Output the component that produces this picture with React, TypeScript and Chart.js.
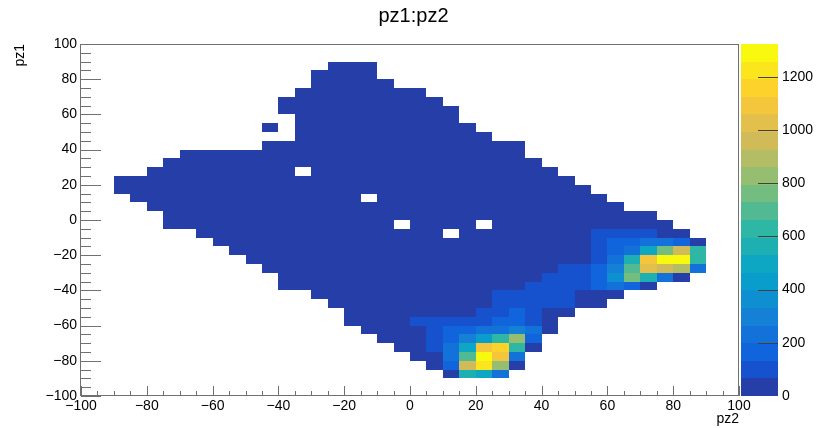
import React, { useEffect, useRef } from "react";
import { Chart, registerables } from "chart.js";

Chart.register(...registerables);

// ---- histogram definition (TH2, 5x5 bins) ----
const BIN_WIDTH = 5;
const X_RANGE = [-100, 100];
const Y_RANGE = [-100, 100];

// lower y edge of each filled row (top to bottom)
const rowYLow = [85, 80, 75, 70, 65, 60, 55, 50, 45, 40, 35, 30, 25, 20, 15, 10, 5, 0, -5, -10, -15, -20, -25, -30, -35, -40, -45, -50, -55, -60, -65, -70, -75, -80, -85, -90];
// lower x edge of the first bin of each row
const rowXLow = [-25, -30, -30, -35, -40, -40, -35, -45, -35, -45, -70, -75, -80, -90, -90, -85, -80, -75, -75, -65, -60, -55, -50, -45, -40, -40, -30, -25, -20, -20, -15, -10, -5, 0, 5, 10];
// bin contents along each row (0 = empty bin)
const rowCounts: number[][] = [
  [30, 30, 30],
  [30, 30, 30, 30],
  [30, 30, 30, 30, 30],
  [30, 30, 30, 30, 30, 30, 30, 30],
  [30, 30, 30, 30, 30, 30, 30, 30, 30, 30],
  [30, 30, 30, 30, 30, 30, 30, 30, 30, 30, 30],
  [30, 30, 30, 30, 30, 30, 30, 30, 30, 30],
  [30, 0, 30, 30, 30, 30, 30, 30, 30, 30, 30, 30, 30],
  [30, 30, 30, 30, 30, 30, 30, 30, 30, 30, 30, 30],
  [30, 30, 30, 30, 30, 30, 30, 30, 30, 30, 30, 30, 30, 30, 30, 30],
  [30, 30, 30, 30, 30, 30, 30, 30, 30, 30, 30, 30, 30, 30, 30, 30, 30, 30, 30, 30, 30],
  [30, 30, 30, 30, 30, 30, 30, 30, 30, 30, 30, 30, 30, 30, 30, 30, 30, 30, 30, 30, 30, 30, 30],
  [30, 30, 30, 30, 30, 30, 30, 30, 30, 0, 30, 30, 30, 30, 30, 30, 30, 30, 30, 30, 30, 30, 30, 30, 30],
  [30, 30, 30, 30, 30, 30, 30, 30, 30, 30, 30, 30, 30, 30, 30, 30, 30, 30, 30, 30, 30, 30, 30, 30, 30, 30, 30, 30],
  [30, 30, 30, 30, 30, 30, 30, 30, 30, 30, 30, 30, 30, 30, 30, 30, 30, 30, 30, 30, 30, 30, 30, 30, 30, 30, 30, 30, 30],
  [30, 30, 30, 30, 30, 30, 30, 30, 30, 30, 30, 30, 30, 30, 0, 30, 30, 30, 30, 30, 30, 30, 30, 30, 30, 30, 30, 30, 30],
  [30, 30, 30, 30, 30, 30, 30, 30, 30, 30, 30, 30, 30, 30, 30, 30, 30, 30, 30, 30, 30, 30, 30, 30, 30, 30, 30, 30, 30],
  [30, 30, 30, 30, 30, 30, 30, 30, 30, 30, 30, 30, 30, 30, 30, 30, 30, 30, 30, 30, 30, 30, 30, 30, 30, 30, 30, 30, 30, 30],
  [30, 30, 30, 30, 30, 30, 30, 30, 30, 30, 30, 30, 30, 30, 0, 30, 30, 30, 30, 0, 30, 30, 30, 30, 30, 30, 30, 30, 30, 30, 30],
  [30, 30, 30, 30, 30, 30, 30, 30, 30, 30, 30, 30, 30, 30, 30, 0, 30, 30, 30, 30, 30, 30, 30, 30, 100, 100, 100, 100, 30, 30],
  [30, 30, 30, 30, 30, 30, 30, 30, 30, 30, 30, 30, 30, 30, 30, 30, 30, 30, 30, 30, 30, 30, 30, 100, 165, 165, 230, 230, 165, 30],
  [30, 30, 30, 30, 30, 30, 30, 30, 30, 30, 30, 30, 30, 30, 30, 30, 30, 30, 30, 30, 30, 30, 100, 165, 230, 500, 760, 960, 630],
  [30, 30, 30, 30, 30, 30, 30, 30, 30, 30, 30, 30, 30, 30, 30, 30, 30, 30, 30, 30, 30, 100, 230, 560, 1090, 1300, 1280, 630],
  [30, 30, 30, 30, 30, 30, 30, 30, 30, 30, 30, 30, 30, 30, 30, 30, 30, 30, 100, 100, 165, 300, 695, 1025, 960, 895, 210],
  [30, 30, 30, 30, 30, 30, 30, 30, 30, 30, 30, 30, 30, 30, 30, 30, 100, 100, 100, 165, 365, 760, 560, 230, 30],
  [30, 30, 30, 30, 30, 30, 30, 30, 30, 30, 30, 30, 30, 30, 30, 100, 100, 100, 100, 165, 250, 165, 30],
  [30, 30, 30, 30, 30, 30, 30, 30, 30, 30, 30, 100, 100, 100, 100, 100, 30, 30, 30],
  [30, 30, 30, 30, 30, 30, 30, 30, 30, 30, 100, 100, 100, 100, 100, 30, 30],
  [30, 30, 30, 30, 30, 30, 30, 30, 100, 100, 165, 100, 30, 30],
  [30, 30, 30, 30, 100, 100, 100, 100, 100, 165, 165, 100, 30],
  [30, 30, 30, 30, 100, 165, 165, 210, 210, 280, 230, 30],
  [30, 30, 30, 100, 165, 300, 430, 630, 825, 165],
  [30, 30, 100, 230, 500, 1090, 1160, 630, 30],
  [30, 30, 230, 695, 1323, 1090, 230],
  [30, 165, 960, 1240, 825, 30],
  [30, 560, 500, 230],
];

const zTicks = [0, 200, 400, 600, 800, 1000, 1200];
const N_CONTOURS = 20;

// ROOT kBird palette
const birdStops = [0.0, 0.125, 0.25, 0.375, 0.5, 0.625, 0.75, 0.875, 1.0];
const birdRed = [0.2082, 0.0592, 0.078, 0.0232, 0.1802, 0.5301, 0.8186, 0.9956, 0.9764];
const birdGreen = [0.1664, 0.3599, 0.5041, 0.6419, 0.7178, 0.7492, 0.7328, 0.7862, 0.9832];
const birdBlue = [0.5293, 0.8684, 0.8385, 0.7914, 0.6425, 0.4662, 0.3499, 0.1968, 0.0539];

const FONT = "'Liberation Sans', Arial, Helvetica, sans-serif";
const AXIS_COLOR = "#707070";

function buildPalette(n: number): string[] {
  const cols: string[] = [];
  for (let g = 1; g < birdStops.length; g++) {
    const nc = Math.floor(n * birdStops[g]) - Math.floor(n * birdStops[g - 1]);
    for (let c = 0; c < nc; c++) {
      const r = birdRed[g - 1] + (c * (birdRed[g] - birdRed[g - 1])) / nc;
      const gg = birdGreen[g - 1] + (c * (birdGreen[g] - birdGreen[g - 1])) / nc;
      const b = birdBlue[g - 1] + (c * (birdBlue[g] - birdBlue[g - 1])) / nc;
      cols.push(`rgb(${Math.round(r * 255)},${Math.round(gg * 255)},${Math.round(b * 255)})`);
    }
  }
  return cols;
}
const PALETTE = buildPalette(255);

function levelColor(k: number): string {
  const idx = Math.min(PALETTE.length - 1, Math.floor(((k + 0.99) * PALETTE.length) / N_CONTOURS));
  return PALETTE[idx];
}

type Cell = { x: number; y: number; v: number };
const cells: Cell[] = [];
rowCounts.forEach((row, r) => {
  row.forEach((v, i) => {
    if (v > 0) cells.push({ x: rowXLow[r] + (i + 0.5) * BIN_WIDTH, y: rowYLow[r] + BIN_WIDTH / 2, v });
  });
});
const Z_MAX = Math.max(...cells.map((c) => c.v));

const fmt = (v: number) => (v < 0 ? "\u2212" + Math.abs(v) : String(v));

const colzPlugin = {
  id: "colz",
  beforeDatasetsDraw(chart: any) {
    const { ctx, chartArea } = chart;
    const xs = chart.scales.x;
    const ys = chart.scales.y;
    const data = chart.data.datasets[0].data as Cell[];
    ctx.save();
    ctx.beginPath();
    ctx.rect(chartArea.left, chartArea.top, chartArea.right - chartArea.left, chartArea.bottom - chartArea.top);
    ctx.clip();
    for (const c of data) {
      const k = Math.min(N_CONTOURS - 1, Math.floor(0.01 + (c.v * N_CONTOURS) / Z_MAX));
      const x0 = Math.round(xs.getPixelForValue(c.x - BIN_WIDTH / 2));
      const x1 = Math.round(xs.getPixelForValue(c.x + BIN_WIDTH / 2));
      const y0 = Math.round(ys.getPixelForValue(c.y + BIN_WIDTH / 2));
      const y1 = Math.round(ys.getPixelForValue(c.y - BIN_WIDTH / 2));
      ctx.fillStyle = levelColor(k);
      ctx.fillRect(x0, y0, x1 - x0, y1 - y0);
    }
    ctx.restore();
  },
  afterDraw(chart: any) {
    const { ctx, chartArea } = chart;
    const { left, right, top, bottom } = chartArea;
    const xs = chart.scales.x;
    const ys = chart.scales.y;
    const zs = chart.scales.z;
    ctx.save();
    // frame
    ctx.strokeStyle = AXIS_COLOR;
    ctx.lineWidth = 1;
    ctx.strokeRect(left - 0.5, top + 0.5, right - left, bottom - top - 1);
    // x ticks
    ctx.beginPath();
    for (let v = X_RANGE[0]; v <= X_RANGE[1] + 1e-9; v += 5) {
      const px = Math.round(xs.getPixelForValue(v)) + 0.5;
      const len = Math.abs(Math.round(v)) % 20 === 0 ? 10 : 5;
      ctx.moveTo(px, bottom);
      ctx.lineTo(px, bottom - len);
    }
    // y ticks
    for (let v = Y_RANGE[0]; v <= Y_RANGE[1] + 1e-9; v += 5) {
      const py = Math.round(ys.getPixelForValue(v)) + 0.5;
      const len = Math.abs(Math.round(v)) % 20 === 0 ? 20 : 10;
      ctx.moveTo(left, py);
      ctx.lineTo(left + len, py);
    }
    ctx.stroke();

    // colour bar
    const barLeft = Math.round(right + 2);
    const barRight = barLeft + 37;
    for (let k = 0; k < N_CONTOURS; k++) {
      const ya = Math.round(zs.getPixelForValue((k * Z_MAX) / N_CONTOURS));
      const yb = Math.round(zs.getPixelForValue(((k + 1) * Z_MAX) / N_CONTOURS));
      ctx.fillStyle = levelColor(k);
      ctx.fillRect(barLeft, yb, barRight - barLeft, ya - yb);
    }
    ctx.strokeStyle = "#404040";
    ctx.beginPath();
    for (const t of zTicks) {
      const py = Math.round(zs.getPixelForValue(t)) + 0.5;
      if (t === 0) continue;
      ctx.moveTo(barRight - 20, py);
      ctx.lineTo(barRight, py);
    }
    ctx.stroke();
    ctx.fillStyle = "#000";
    ctx.font = `14px ${FONT}`;
    ctx.textAlign = "left";
    ctx.textBaseline = "middle";
    for (const t of zTicks) {
      const py = zs.getPixelForValue(t);
      ctx.fillText(String(t), barRight + 4, py);
    }
    ctx.restore();
  },
};

export default function App() {
  const ref = useRef<HTMLCanvasElement>(null);
  useEffect(() => {
    if (!ref.current) return;
    const chart = new Chart(ref.current, {
      type: "scatter",
      data: {
        datasets: [
          {
            label: "pz1:pz2",
            data: cells as any,
            pointRadius: 0,
            pointHoverRadius: 0,
            showLine: false,
          },
        ],
      },
      options: {
        responsive: false,
        animation: false,
        devicePixelRatio: 1,
        layout: { padding: 0 },
        plugins: {
          legend: { display: false },
          tooltip: { enabled: false },
          title: {
            display: true,
            text: "pz1:pz2",
            color: "#000",
            font: { family: FONT, size: 20, weight: "normal" },
            padding: { top: 4, bottom: 16 },
          },
        },
        scales: {
          x: {
            type: "linear",
            position: "bottom",
            min: X_RANGE[0],
            max: X_RANGE[1],
            grid: { display: false, drawTicks: false },
            border: { display: false },
            ticks: {
              stepSize: 20,
              autoSkip: false,
              maxRotation: 0,
              padding: 2,
              color: "#000",
              font: { family: FONT, size: 14 },
              callback: (v: any) => fmt(Number(v)),
            },
            title: {
              display: true,
              text: "pz2",
              align: "end",
              color: "#000",
              font: { family: FONT, size: 14 },
              padding: { top: 0, bottom: 0 },
            },
            afterFit: (s: any) => {
              s.height = 32;
            },
          },
          y: {
            type: "linear",
            position: "left",
            min: Y_RANGE[0],
            max: Y_RANGE[1],
            grid: { display: false, drawTicks: false },
            border: { display: false },
            ticks: {
              stepSize: 20,
              autoSkip: false,
              padding: 4,
              color: "#000",
              font: { family: FONT, size: 14 },
              callback: (v: any) => fmt(Number(v)),
            },
            title: {
              display: true,
              text: "pz1",
              align: "end",
              color: "#000",
              font: { family: FONT, size: 14 },
              padding: { top: 12, bottom: 0 },
            },
            afterFit: (s: any) => {
              s.width = 81;
            },
          },
          z: {
            type: "linear",
            axis: "y",
            position: "right",
            min: 0,
            max: Z_MAX,
            grid: { display: false, drawTicks: false },
            border: { display: false },
            ticks: { display: false },
            afterFit: (s: any) => {
              s.width = 88;
            },
          },
        },
      } as any,
      plugins: [colzPlugin],
    });
    return () => chart.destroy();
  }, []);
  return (
    <div style={{ position: "absolute", left: 0, top: 0, width: 827, height: 428, background: "#fff" }}>
      <canvas ref={ref} width={827} height={428} style={{ display: "block" }} />
    </div>
  );
}
